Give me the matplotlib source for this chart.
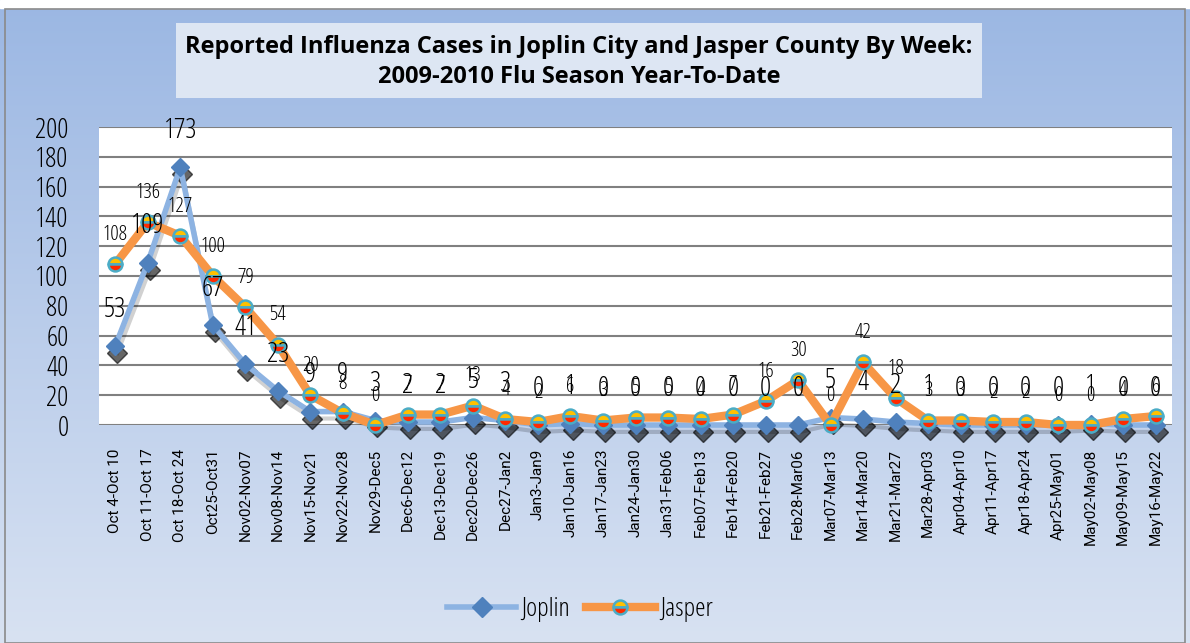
import numpy as np
import matplotlib
matplotlib.use("Agg")
import matplotlib.pyplot as plt
import matplotlib.transforms as mtransforms
from matplotlib.patches import Rectangle
from matplotlib.lines import Line2D

weeks = ["Oct 4-Oct 10", "Oct 11-Oct 17", "Oct 18-Oct 24", "Oct25-Oct31", "Nov02-Nov07",
         "Nov08-Nov14", "Nov15-Nov21", "Nov22-Nov28", "Nov29-Dec5", "Dec6-Dec12",
         "Dec13-Dec19", "Dec20-Dec26", "Dec27-Jan2", "Jan3-Jan9", "Jan10-Jan16",
         "Jan17-Jan23", "Jan24-Jan30", "Jan31-Feb06", "Feb07-Feb13", "Feb14-Feb20",
         "Feb21-Feb27", "Feb28-Mar06", "Mar07-Mar13", "Mar14-Mar20", "Mar21-Mar27",
         "Mar28-Apr03", "Apr04-Apr10", "Apr11-Apr17", "Apr18-Apr24", "Apr25-May01",
         "May02-May08", "May09-May15", "May16-May22"]
joplin = [53, 109, 173, 67, 41, 23, 9, 9, 3, 2, 2, 5, 3, 0, 1, 0, 0, 0, 0, 0, 0, 0,
          5, 4, 2, 1, 0, 0, 0, 0, 1, 0, 0]
jasper = [108, 136, 127, 100, 79, 54, 20, 8, 0, 7, 7, 13, 4, 2, 6, 3, 5, 5, 4, 7, 16, 30,
          0, 42, 18, 3, 3, 2, 2, 0, 0, 4, 6]
yticks = list(range(0, 201, 20))

narrow = dict(family=["Open Sans", "DejaVu Sans"], stretch="condensed")

fig = plt.figure(figsize=(11.9, 6.43), dpi=100)

# background gradient
bg = fig.add_axes([0, 0, 1, 1], zorder=-10)
top = np.array([155, 183, 227]) / 255
bot = np.array([216, 226, 242]) / 255
t = np.linspace(0, 1, 256)[:, None]
grad = top * (1 - t) + bot * t
bg.imshow(grad[:, None, :].repeat(2, axis=1), aspect="auto", extent=[0, 1, 0, 1])
bg.set_xlim(0, 1)
bg.set_ylim(0, 1)
bg.axis("off")
bg.add_patch(Rectangle((0, 1 - 8 / 643), 1, 8 / 643, color="white", zorder=2))
bg.add_patch(Rectangle((5 / 1190, 0), 1180 / 1190, 1 - 9 / 643, fill=False,
                       edgecolor="#8a8a8a", lw=1.2, zorder=3))
# title box
bg.add_patch(Rectangle((176 / 1190, 1 - 98 / 643), 806 / 1190, 75 / 643,
                       facecolor="#dde6f3", edgecolor="none", zorder=3))
bg.text(579 / 1190, 1 - 62 / 643,
        "Reported Influenza Cases in Joplin City and Jasper County By Week:\n"
        "2009-2010 Flu Season Year-To-Date",
        ha="center", va="center", fontsize=17, fontweight="bold",
        linespacing=1.35, zorder=4, **narrow)

ax = fig.add_axes([99 / 1190, 1 - 425 / 643, 1073 / 1190, 298 / 643])
ax.set_facecolor("white")
x = np.arange(len(weeks))

# soft shadow under the Joplin series (mostly under the markers)
shadow = mtransforms.offset_copy(ax.transData, fig=fig, x=1.5, y=-5, units="points")
ax.plot(x, joplin, color="black", lw=3, alpha=0.18, transform=shadow, zorder=2, clip_on=False)
ax.plot(x, joplin, ls="none", marker="D", ms=10, color="black", alpha=0.6,
        transform=shadow, zorder=2, clip_on=False)
ax.plot(x, joplin, color="#8db3e2", lw=4, marker="D", ms=9.5,
        markerfacecolor="#4f81bd", markeredgecolor="#4f81bd", zorder=3, clip_on=False)
ax.plot(x, jasper, color="#f79646", lw=6, marker="o", ms=10, fillstyle="top",
        markerfacecolor="#ffc000", markerfacecoloralt="#ff2a00",
        markeredgecolor="#4bacc6", markeredgewidth=1.8, zorder=4, clip_on=False)

for xi, v in zip(x, joplin):
    ax.annotate(str(v), (xi, v), xytext=(0, 26), textcoords="offset points",
                ha="center", va="center", fontsize=20, zorder=6,
                annotation_clip=False, **narrow)
for xi, v in zip(x, jasper):
    ax.annotate(str(v), (xi, v), xytext=(0, 21), textcoords="offset points",
                ha="center", va="center", fontsize=15, zorder=6,
                annotation_clip=False, **narrow)

ax.set_xlim(-0.5, len(weeks) - 0.5)
ax.set_ylim(0, 200)
ax.set_yticks(yticks)
ax.set_yticklabels([str(v) for v in yticks], fontsize=20, **narrow)
ax.set_xticks(x)
ax.set_xticklabels(weeks, rotation=90, fontsize=11, family=["Roboto", "DejaVu Sans"])
ax.tick_params(axis="y", length=0, pad=22)
ax.tick_params(axis="x", length=0, pad=17)
ax.grid(axis="y", color="#808080", lw=1.5)
ax.set_axisbelow(True)
for s in ax.spines.values():
    s.set_visible(False)

handles = [
    Line2D([], [], color="#8db3e2", lw=4, marker="D", ms=10,
           markerfacecolor="#4f81bd", markeredgecolor="#4f81bd"),
    Line2D([], [], color="#f79646", lw=6, marker="o", ms=10, fillstyle="top",
           markerfacecolor="#ffc000", markerfacecoloralt="#ff2a00",
           markeredgecolor="#4bacc6", markeredgewidth=1.8),
]
fig.legend(handles, ["Joplin", "Jasper"], loc="center", bbox_to_anchor=(580 / 1190, 1 - 610 / 643),
           ncol=2, frameon=False, prop=dict(size=19, **narrow),
           handlelength=2.6, handletextpad=0.2, columnspacing=0.6)

fig.savefig("out.png", dpi=100)
